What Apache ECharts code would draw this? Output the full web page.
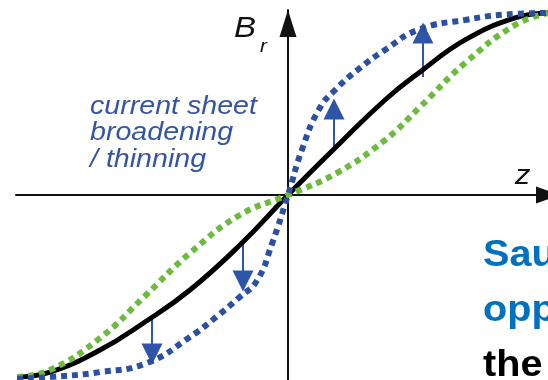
<!DOCTYPE html>
<html>
<head>
<meta charset="utf-8">
<script src="https://cdn.jsdelivr.net/npm/echarts@6/dist/echarts.min.js"></script>
<style>
    html, body { margin: 0; padding: 0; background: #fff; }
    #chart { width: 548px; height: 380px; }
</style>
</head>
<body>
<div id="chart"></div>
<script>
// z positions (units: 1 = right edge) and Br values (1 = asymptote)
const zBlack = [-1.042, -0.915, -0.723, -0.55, -0.377, -0.185, 0, 0.181, 0.373, 0.508, 0.681, 0.873, 1.0];
const brBlack = [-1.0, -0.973, -0.852, -0.698, -0.522, -0.275, 0, 0.258, 0.522, 0.676, 0.852, 0.973, 1.0];

const zGreen = [-1.042, -0.915, -0.723, -0.55, -0.377, -0.185, 0, 0.188, 0.373, 0.508, 0.681, 0.873, 1.0];
const brGreen = [-1.0, -0.962, -0.786, -0.555, -0.319, -0.11, 0, 0.121, 0.302, 0.484, 0.725, 0.934, 1.0];

const zBlue = [-1.042, -0.915, -0.723, -0.542, -0.377, -0.281, -0.185, -0.119, -0.062, 0, 0.054, 0.119, 0.181, 0.277, 0.373, 0.5, 0.681, 0.873, 1.0];
const brBlue = [-1.01, -1.0, -0.973, -0.923, -0.78, -0.676, -0.56, -0.47, -0.27, 0, 0.25, 0.47, 0.577, 0.698, 0.797, 0.907, 0.962, 0.995, 1.0];

// arrows: z, start Br, end Br (head centre)
const arrowZ = [-0.523, -0.173, 0.177, 0.519];
const arrowFrom = [-0.659, -0.247, 0.247, 0.648];
const arrowTo = [-0.874, -0.473, 0.473, 0.890];

const zip = (xs, ys) => xs.map((x, i) => [x, ys[i]]);

const chart = echarts.init(document.getElementById('chart'));

const font = 'Liberation Sans, Arial, sans-serif';

// the source picture is a little stretched sideways, so texts get scaleX
const label = (text, x, y, size, style, fill) => ({
    type: 'text', x: x, y: y, scaleX: 1.1,
    style: { text: text, font: style + ' ' + size + 'px ' + font, fill: fill, verticalAlign: 'middle' }
});

const option = {
    animation: false,
    grid: { left: 16, right: 0, top: 10, bottom: 0 },
    xAxis: {
        type: 'value',
        min: -1.046,
        max: 1.0,
        axisLine: {
            onZero: true,
            symbol: ['none', 'triangle'],
            symbolSize: [17, 24],
            lineStyle: { color: '#111', width: 2 }
        },
        axisTick: { show: false },
        axisLabel: { show: false },
        splitLine: { show: false }
    },
    yAxis: {
        type: 'value',
        min: -1.0165,
        max: 1.0165,
        axisLine: {
            onZero: true,
            symbol: ['none', 'triangle'],
            symbolSize: [17, 27],
            symbolOffset: [0, -13.5],
            lineStyle: { color: '#111', width: 2 }
        },
        axisTick: { show: false },
        axisLabel: { show: false },
        splitLine: { show: false }
    },
    series: [
        {
            type: 'line',
            data: zip(zBlack, brBlack),
            smooth: 0.45,
            showSymbol: false,
            lineStyle: { color: '#000', width: 5 }
        },
        {
            type: 'line',
            data: zip(zGreen, brGreen),
            smooth: 0.45,
            showSymbol: false,
            lineStyle: { color: '#6cbb3c', width: 6, type: [6, 5] }
        },
        {
            type: 'line',
            data: zip(zBlue, brBlue),
            smooth: 0.5,
            showSymbol: false,
            lineStyle: { color: '#2b4fa3', width: 6, type: [6, 5] }
        },
        {
            type: 'lines',
            coordinateSystem: 'cartesian2d',
            symbol: ['none', 'triangle'],
            symbolSize: [15, 21],
            lineStyle: { color: '#2e56a8', width: 2, opacity: 1 },
            data: arrowZ.map((z, i) => ({ coords: [[z, arrowFrom[i]], [z, arrowTo[i]]] }))
        }
    ],
    graphic: [
        label('current sheet', 90, 106.5, 26, 'italic', '#3454a4'),
        label('broadening', 90, 132.5, 26, 'italic', '#3454a4'),
        label('/ thinning', 90, 159.5, 26, 'italic', '#3454a4'),
        label('B', 234, 28.5, 30, 'italic', '#111'),
        label('r', 260, 47, 19, 'italic', '#111'),
        label('z', 515, 176, 28, 'italic', '#111'),
        label('Sau', 483, 256.5, 36, 'bold', '#0070c0'),
        label('opp', 483, 311.5, 36, 'bold', '#0070c0'),
        label('the', 483, 366.5, 36, 'bold', '#000')
    ]
};

chart.setOption(option);
</script>
</body>
</html>
